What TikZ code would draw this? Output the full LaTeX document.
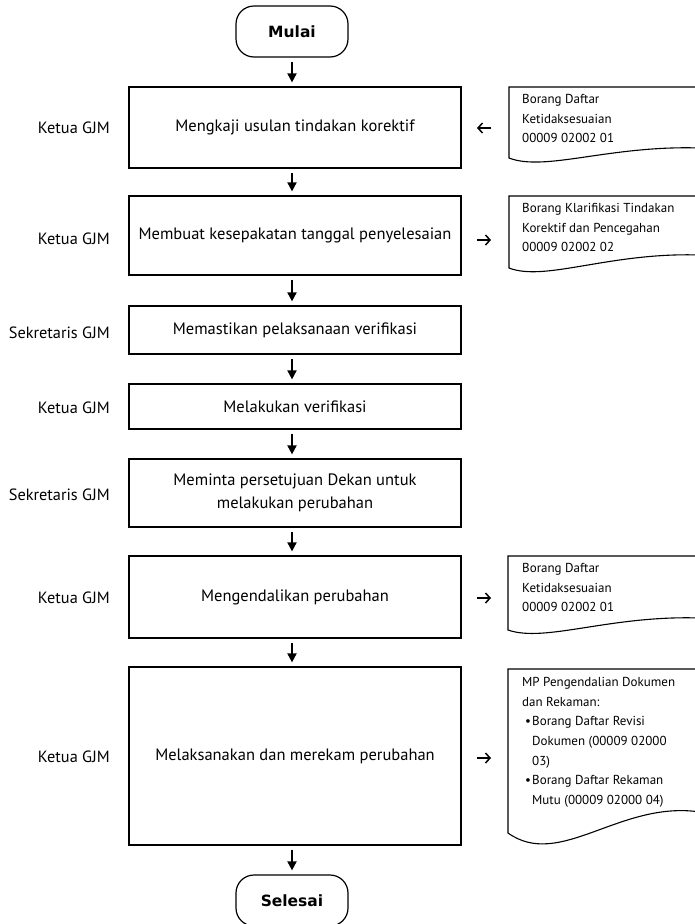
\documentclass[tikz,border=0pt]{standalone}
\usepackage{fontspec}
\setmainfont{PT Sans}
\newfontfamily\termfont{DejaVu Sans}
\usetikzlibrary{arrows.meta}
\begin{document}
\begin{tikzpicture}[x=1pt,y=-1pt,
  proc/.style={draw, line width=1.2pt, minimum width=332pt, inner sep=0pt, align=center, font=\fontsize{16.5}{23.5}\selectfont},
  term/.style={draw, line width=1.2pt, rounded corners=18pt, minimum width=112pt, minimum height=51pt, inner sep=0pt, font=\termfont\bfseries\fontsize{15.5}{18}\selectfont},
  role/.style={anchor=east, inner sep=0pt, font=\fontsize{16.3}{18}\selectfont},
  flow/.style={line width=1.8pt, -{Triangle[width=9pt,length=9pt]}, shorten <=4pt, shorten >=4pt},
  side/.style={line width=1.5pt, -{Straight Barb[length=4.5pt,width=10pt]}},
  docframe/.style={line width=1.1pt},
  doctext/.style={anchor=north west, align=left, inner sep=0pt, font=\fontsize{13}{19.7}\selectfont}
]
\useasboundingbox (0,0) rectangle (694,924);
\fill[white] (0,0) rectangle (694,924);

% terminators
\node[term] (start) at (292,31.5) {Mulai};
\node[term] (stop) at (292,900.5) {Selesai};

% process boxes
\node[proc, minimum height=81pt] (b1) at (295,127.5) {Mengkaji usulan tindakan korektif};
\node[proc, minimum height=79pt] (b2) at (295,235.5) {Membuat kesepakatan tanggal penyelesaian};
\node[proc, minimum height=48pt] (b3) at (295,330) {Memastikan pelaksanaan verifikasi};
\node[proc, minimum height=45pt] (b4) at (295,406.5) {Melakukan verifikasi};
\node[proc, minimum height=68pt] (b5) at (295,493) {Meminta persetujuan Dekan untuk\\melakukan perubahan};
\node[proc, minimum height=82pt] (b6) at (295,597) {Mengendalikan perubahan};
\node[proc, minimum height=178pt] (b7) at (295,756) {Melaksanakan dan merekam perubahan};

% roles
\node[role] (r1) at (110,128) {Ketua GJM};
\node[role] (r2) at (110,239) {Ketua GJM};
\node[role] (r3) at (110,333) {Sekretaris GJM};
\node[role] (r4) at (110,408) {Ketua GJM};
\node[role] (r5) at (110,495) {Sekretaris GJM};
\node[role] (r6) at (110,598) {Ketua GJM};
\node[role] (r7) at (110,757) {Ketua GJM};

% flow arrows
\draw[flow] (start.south) -- (start.south |- b1.north);
\draw[flow] (b1.south -| start) -- (b2.north -| start);
\draw[flow] (b2.south -| start) -- (b3.north -| start);
\draw[flow] (b3.south -| start) -- (b4.north -| start);
\draw[flow] (b4.south -| start) -- (b5.north -| start);
\draw[flow] (b5.south -| start) -- (b6.north -| start);
\draw[flow] (b6.south -| start) -- (b7.north -| start);
\draw[flow] (b7.south -| start) -- (stop.north);

% documents
\draw[docframe] (700,87) -- (509,87) -- (509,158) .. controls (545,172) and (610,145) .. (700,148);
\node[doctext] (d1) at (522,94) {Borang Daftar\\Ketidaksesuaian\\00009 02002 01};
\draw[docframe] (700,196) -- (509,196) -- (509,268) .. controls (545,282) and (610,252) .. (700,255);
\node[doctext] (d2) at (522,203) {Borang Klarifikasi Tindakan\\Korektif dan Pencegahan\\00009 02002 02};
\draw[docframe] (700,556) -- (508,556) -- (508,630) .. controls (545,643) and (610,615) .. (700,618);
\node[doctext] (d3) at (522,563) {Borang Daftar\\Ketidaksesuaian\\00009 02002 01};
\draw[docframe] (700,669) -- (508,669) -- (508,833) .. controls (560,870) and (620,800) .. (700,812);
\node[doctext] (d4) at (522,677) {MP Pengendalian Dokumen\\dan Rekaman:\\\makebox[10pt][l]{\hspace{3pt}\textbullet}Borang Daftar Revisi\\\hspace*{10pt}Dokumen (00009 02000\\\hspace*{10pt}03)\\\makebox[10pt][l]{\hspace{3pt}\textbullet}Borang Daftar Rekaman\\\hspace*{10pt}Mutu (00009 02000 04)};

% side arrows
\coordinate (s1a) at (491,128); \coordinate (s1b) at (477,128);
\coordinate (s2a) at (477,240); \coordinate (s2b) at (491,240);
\coordinate (s6a) at (477,598); \coordinate (s6b) at (491,598);
\coordinate (s7a) at (477,758); \coordinate (s7b) at (491,758);
\draw[side] (s1a) -- (s1b);
\draw[side] (s2a) -- (s2b);
\draw[side] (s6a) -- (s6b);
\draw[side] (s7a) -- (s7b);
\end{tikzpicture}
\end{document}
